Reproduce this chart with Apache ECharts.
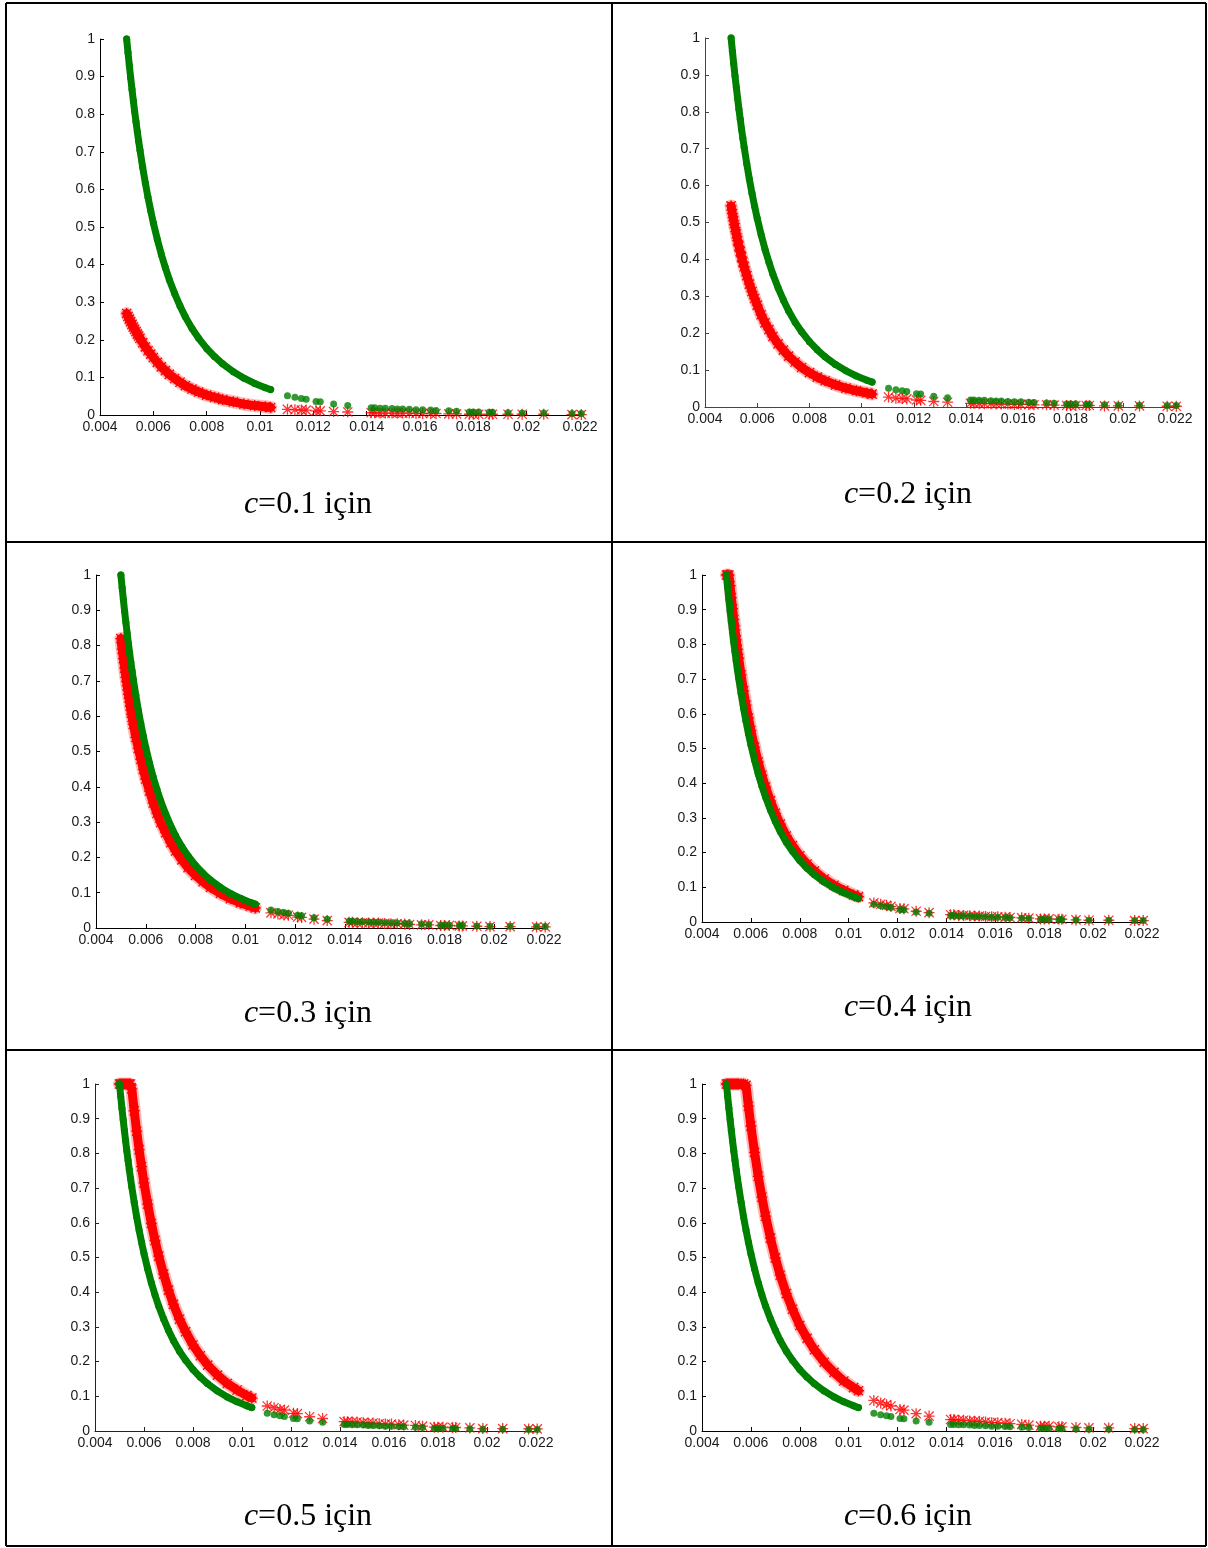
<!DOCTYPE html>
<html><head><meta charset="utf-8">
<script src="https://cdn.jsdelivr.net/npm/echarts@6/dist/echarts.min.js"></script>
<style>html,body{margin:0;padding:0;background:#fff}#c{width:1208px;height:1548px}</style>
</head><body><div id="c"></div>
<script>
// ---------------- data ----------------
const cValues = ['0.1', '0.2', '0.3', '0.4', '0.5', '0.6'];
const xTickLabels = ['0.004','0.006','0.008','0.01','0.012','0.014','0.016','0.018','0.02','0.022'];
const yTickLabels = ['0','0.1','0.2','0.3','0.4','0.5','0.6','0.7','0.8','0.9','1'];

const xDense = [0.00500,0.00505,0.00510,0.00515,0.00520,0.00525,0.00530,0.00535,0.00540,0.00545,0.00550,0.00560,0.00570,0.00580,0.00590,0.00600,0.00615,0.00630,0.00645,0.00660,0.00680,0.00700,0.00720,0.00745,0.00770,0.00800,0.00830,0.00860,0.00900,0.00940,0.00980,0.01020,0.01040];
const greenDense = [1.000,0.964,0.930,0.897,0.866,0.836,0.807,0.780,0.753,0.728,0.704,0.659,0.617,0.579,0.544,0.511,0.467,0.427,0.392,0.360,0.323,0.290,0.261,0.230,0.204,0.177,0.155,0.136,0.115,0.098,0.084,0.0725,0.0675];
const redDenseC01 = [0.270,0.262,0.255,0.248,0.241,0.234,0.228,0.222,0.215,0.210,0.204,0.192,0.181,0.171,0.162,0.153,0.140,0.128,0.118,0.108,0.097,0.087,0.078,0.069,0.061,0.053,0.047,0.041,0.035,0.029,0.025,0.022,0.020];
const redDenseC02 = [0.545,0.524,0.505,0.486,0.469,0.451,0.436,0.421,0.407,0.393,0.380,0.356,0.333,0.313,0.294,0.276,0.250,0.228,0.210,0.191,0.171,0.154,0.138,0.122,0.107,0.093,0.081,0.071,0.060,0.051,0.044,0.038,0.035];
const redDenseC03 = [0.820,0.790,0.763,0.736,0.710,0.686,0.662,0.640,0.617,0.597,0.577,0.540,0.509,0.478,0.449,0.422,0.388,0.354,0.325,0.299,0.270,0.242,0.218,0.193,0.171,0.149,0.131,0.115,0.098,0.083,0.071,0.062,0.057];
const redDenseC04 = [1.000,1.000,1.000,0.969,0.935,0.903,0.872,0.842,0.813,0.786,0.760,0.712,0.666,0.625,0.588,0.552,0.504,0.461,0.423,0.389,0.349,0.313,0.282,0.248,0.220,0.191,0.167,0.147,0.124,0.106,0.091,0.078,0.073];
const redDenseC05 = [1.000,1.000,1.000,1.000,1.000,1.000,1.000,1.000,1.000,1.000,0.986,0.923,0.864,0.811,0.762,0.715,0.654,0.598,0.549,0.504,0.452,0.406,0.365,0.322,0.286,0.248,0.217,0.190,0.161,0.137,0.118,0.102,0.095];
const redDenseC06 = [1.000,1.000,1.000,1.000,1.000,1.000,1.000,1.000,1.000,1.000,1.000,1.000,1.000,0.996,0.936,0.879,0.803,0.734,0.674,0.619,0.556,0.499,0.449,0.396,0.351,0.304,0.267,0.234,0.198,0.169,0.144,0.125,0.116];

const xSparse = [0.01103,0.01131,0.01155,0.01173,0.01210,0.01226,0.01276,0.01329,0.01417,0.01430,0.01450,0.01470,0.01495,0.01515,0.01535,0.01560,0.01585,0.01610,0.01640,0.01660,0.01708,0.01737,0.01785,0.01800,0.01820,0.01860,0.01872,0.01930,0.01983,0.02064,0.02170,0.02205];
const greenSparse = [0.051,0.047,0.044,0.042,0.036,0.035,0.029,0.025,0.019,0.019,0.018,0.018,0.017,0.016,0.016,0.015,0.014,0.014,0.013,0.012,0.011,0.010,0.008,0.008,0.008,0.007,0.007,0.006,0.005,0.005,0.004,0.004];
const redSparseC01 = [0.015,0.014,0.013,0.013,0.011,0.011,0.009,0.008,0.006,0.006,0.005,0.005,0.005,0.005,0.005,0.005,0.004,0.004,0.004,0.004,0.003,0.003,0.002,0.002,0.002,0.002,0.002,0.002,0.002,0.002,0.001,0.001];
const redSparseC02 = [0.027,0.024,0.023,0.022,0.019,0.018,0.015,0.013,0.010,0.010,0.009,0.009,0.009,0.008,0.008,0.008,0.007,0.007,0.007,0.006,0.006,0.005,0.004,0.004,0.004,0.004,0.004,0.003,0.003,0.003,0.002,0.002];
const redSparseC03 = [0.043,0.040,0.037,0.036,0.031,0.030,0.025,0.021,0.016,0.016,0.015,0.015,0.014,0.014,0.014,0.013,0.012,0.012,0.011,0.010,0.009,0.009,0.007,0.007,0.007,0.006,0.006,0.005,0.004,0.004,0.003,0.003];
const redSparseC04 = [0.055,0.051,0.048,0.045,0.039,0.038,0.031,0.027,0.021,0.021,0.019,0.019,0.018,0.017,0.017,0.016,0.015,0.015,0.014,0.013,0.012,0.011,0.009,0.009,0.009,0.008,0.008,0.006,0.005,0.005,0.004,0.004];
const redSparseC05 = [0.072,0.067,0.062,0.060,0.051,0.050,0.041,0.036,0.027,0.027,0.026,0.026,0.024,0.023,0.023,0.021,0.020,0.020,0.018,0.017,0.016,0.014,0.011,0.011,0.011,0.010,0.010,0.009,0.007,0.007,0.006,0.006];
const redSparseC06 = [0.088,0.081,0.076,0.072,0.062,0.060,0.050,0.043,0.033,0.033,0.031,0.031,0.029,0.028,0.028,0.026,0.024,0.024,0.022,0.021,0.019,0.017,0.014,0.014,0.014,0.012,0.012,0.010,0.009,0.009,0.007,0.007];

const redDense = [redDenseC01, redDenseC02, redDenseC03, redDenseC04, redDenseC05, redDenseC06];
const redSparse = [redSparseC01, redSparseC02, redSparseC03, redSparseC04, redSparseC05, redSparseC06];

// ---------------- layout (pixels) ----------------
const panels = [
  {left:100, top:39,   width:480, height:376, cap:[308, 505], axis:'#000'},
  {left:705, top:38,   width:470, height:369, cap:[908, 495], axis:'#444'},
  {left:96,  top:575,  width:448, height:353, cap:[308, 1014], axis:'#000'},
  {left:702, top:575,  width:440, height:347, cap:[908, 1008], axis:'#000'},
  {left:95,  top:1084, width:441, height:347, cap:[308, 1517], axis:'#222'},
  {left:702, top:1084, width:440, height:347, cap:[908, 1517], axis:'#000'}
];

const AST = 'path://M4.4,0h1.2v10h-1.2z M0,4.4h10v1.2h-10z M1.2,0.4L9.6,8.8L8.8,9.6L0.4,1.2Z M8.8,0.4L9.6,1.2L1.2,9.6L0.4,8.8Z';
const RED = '#ff0000', GREEN = '#008000';
const SERIF = '"Liberation Serif", "Times New Roman", serif';
const zip = (xs, ys) => xs.map((x, i) => [x, ys[i]]);

const grid = [], xAxis = [], yAxis = [], series = [], graphic = [];
panels.forEach((p, i) => {
  grid.push({left:p.left, top:p.top, width:p.width, height:p.height, containLabel:false});
  const axisCommon = {
    axisLine:{show:true, onZero:false, lineStyle:{color:p.axis, width:1}},
    axisTick:{show:true, inside:true, length:4, lineStyle:{color:p.axis}},
    splitLine:{show:false},
    axisLabel:{color:'#1a1a1a', fontFamily:'"Liberation Sans", Arial, sans-serif', fontSize:14}
  };
  xAxis.push(Object.assign({}, axisCommon, {type:'value', gridIndex:i, min:0.004, max:0.022, interval:0.002,
    axisLabel:Object.assign({}, axisCommon.axisLabel, {margin:5,
      formatter: v => xTickLabels[Math.round((v - 0.004) / 0.002)] || ''})}));
  yAxis.push(Object.assign({}, axisCommon, {type:'value', gridIndex:i, min:0, max:1, interval:0.1,
    axisLabel:Object.assign({}, axisCommon.axisLabel, {margin:5,
      formatter: v => yTickLabels[Math.round(v * 10)] || ''})}));

  // pale fringe of the red cloud
  series.push({type:'line', xAxisIndex:i, yAxisIndex:i, data:zip(xDense, redDense[i]), clip:false,
    showSymbol:false, symbol:'none',
    lineStyle:{color:'rgba(255,60,60,0.35)', width:13, cap:'round', join:'round'}, z:1, silent:true});
  series.push({type:'line', xAxisIndex:i, yAxisIndex:i, data:zip(xDense, redDense[i]), clip:false,
    symbol:AST, symbolSize:11, showSymbol:true, showAllSymbol:true,
    lineStyle:{color:RED, width:9, cap:'round', join:'round'}, itemStyle:{color:RED}, z:2, silent:true});
  series.push({type:'scatter', xAxisIndex:i, yAxisIndex:i, data:zip(xSparse, redSparse[i]), clip:false,
    symbol:AST, symbolSize:11, itemStyle:{color:RED}, z:2, silent:true});
  series.push({type:'line', xAxisIndex:i, yAxisIndex:i, data:zip(xDense, greenDense), clip:false,
    symbol:'circle', symbolSize:7, showSymbol:true, showAllSymbol:true,
    lineStyle:{color:GREEN, width:7, cap:'round', join:'round'}, itemStyle:{color:GREEN, borderWidth:0}, z:3, silent:true});
  series.push({type:'scatter', xAxisIndex:i, yAxisIndex:i, data:zip(xSparse, greenSparse), clip:false,
    symbol:'circle', symbolSize:7, itemStyle:{color:GREEN}, z:3, silent:true});

  graphic.push({type:'text', x:p.cap[0], y:p.cap[1], z:10,
    style:{text:'{i|c}{n|=' + cValues[i] + ' için}', align:'center', verticalAlign:'middle',
      fill:'#000', font:'32px ' + SERIF,
      rich:{
        i:{fontStyle:'italic', fontSize:32, fontFamily:SERIF, fill:'#000'},
        n:{fontSize:32, fontFamily:SERIF, fill:'#000'}
      }}});
});

// table borders
const lines = [
  [6, 3, 1206, 3], [6, 1546, 1206, 1546], [6, 3, 6, 1546], [1206, 3, 1206, 1546],
  [612, 3, 612, 1546], [6, 542, 1206, 542], [6, 1050, 1206, 1050]
];
lines.forEach(l => graphic.push({type:'line', z:10, shape:{x1:l[0], y1:l[1], x2:l[2], y2:l[3]},
  style:{stroke:'#000', lineWidth:2}}));

const chart = echarts.init(document.getElementById('c'), null, {renderer:'canvas'});
chart.setOption({animation:false, backgroundColor:'#fff', grid, xAxis, yAxis, series, graphic});
</script></body></html>
